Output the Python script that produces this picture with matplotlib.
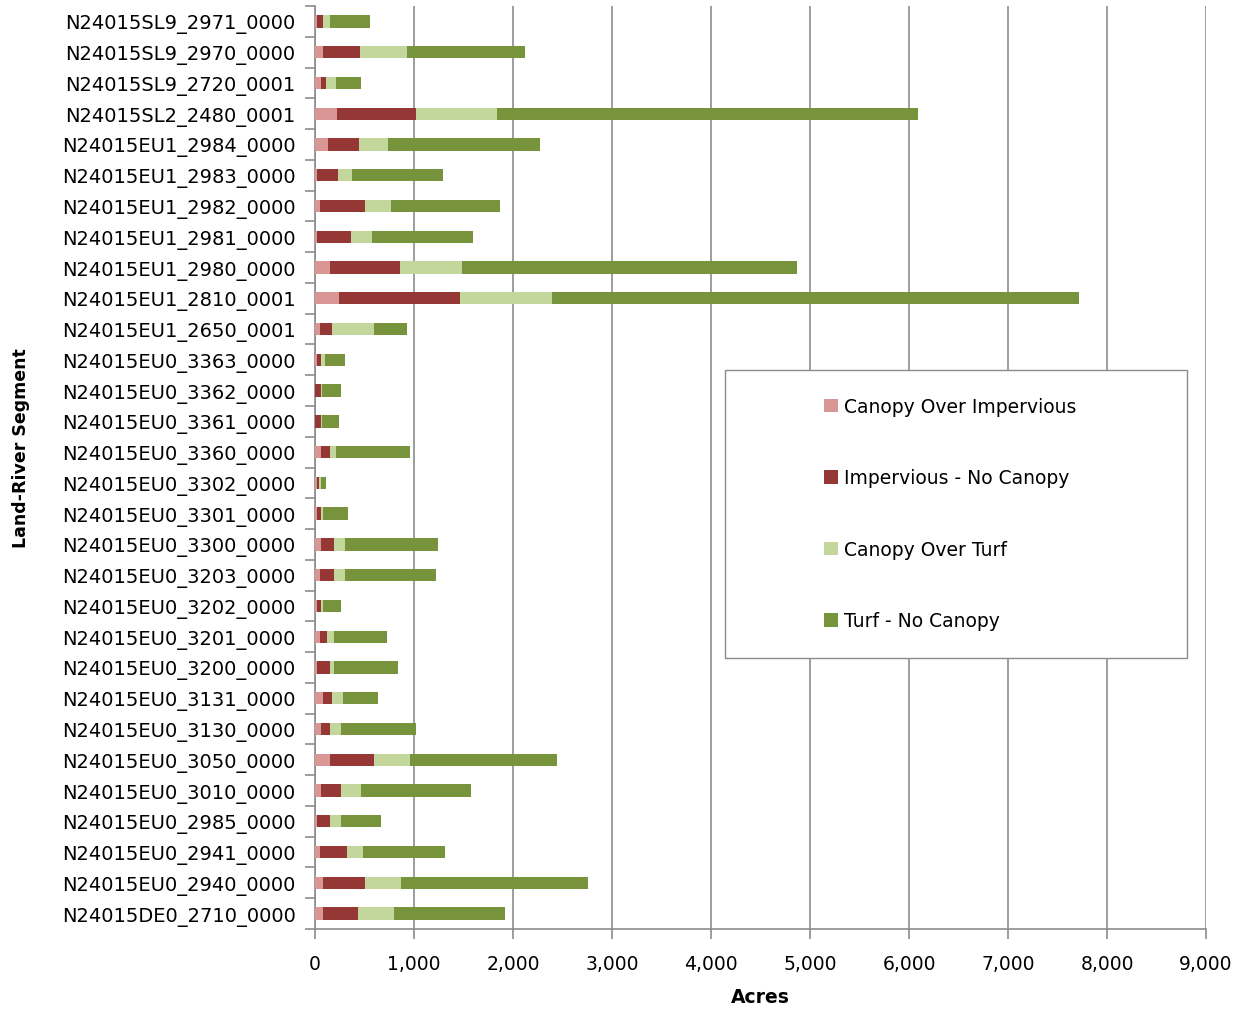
#!/usr/bin/env python3

"""Stacked horizontal bars: canopy / impervious / turf acres per land-river segment."""

import matplotlib
matplotlib.use('Agg')
import matplotlib.pyplot as plt
from matplotlib.patches import Rectangle
from matplotlib.ticker import FuncFormatter, FixedLocator
import numpy as np

plt.rcParams['font.family'] = ['DejaVu Sans']

# segments, top to bottom as in the chart
segments = ['N24015SL9_2971_0000', 'N24015SL9_2970_0000', 'N24015SL9_2720_0001',
            'N24015SL2_2480_0001', 'N24015EU1_2984_0000', 'N24015EU1_2983_0000',
            'N24015EU1_2982_0000', 'N24015EU1_2981_0000', 'N24015EU1_2980_0000',
            'N24015EU1_2810_0001', 'N24015EU1_2650_0001', 'N24015EU0_3363_0000',
            'N24015EU0_3362_0000', 'N24015EU0_3361_0000', 'N24015EU0_3360_0000',
            'N24015EU0_3302_0000', 'N24015EU0_3301_0000', 'N24015EU0_3300_0000',
            'N24015EU0_3203_0000', 'N24015EU0_3202_0000', 'N24015EU0_3201_0000',
            'N24015EU0_3200_0000', 'N24015EU0_3131_0000', 'N24015EU0_3130_0000',
            'N24015EU0_3050_0000', 'N24015EU0_3010_0000', 'N24015EU0_2985_0000',
            'N24015EU0_2941_0000', 'N24015EU0_2940_0000', 'N24015DE0_2710_0000']

canopy_imp = [24, 80, 64, 225, 135, 24, 47, 24, 155, 246, 47, 24, 5, 4, 64,
              24, 24, 64, 47, 24, 47, 24, 81, 64, 155, 64, 24, 47, 81, 81]
imp_no_canopy = [57, 370, 50, 800, 313, 205, 458, 336, 700, 1220, 128, 40, 59, 60, 91,
                 20, 40, 128, 145, 40, 71, 131, 94, 91, 445, 202, 131, 277, 424, 350]
canopy_turf = [74, 475, 95, 810, 293, 148, 260, 220, 627, 923, 425, 34, 5, 4, 54,
               13, 14, 111, 111, 14, 74, 37, 111, 111, 364, 202, 111, 165, 368, 371]
turf_no_canopy = [400, 1200, 255, 4255, 1534, 920, 1105, 1014, 3386, 5328, 330, 202, 197, 178, 755,
                  58, 259, 937, 920, 185, 533, 647, 348, 752, 1479, 1106, 405, 829, 1880, 1122]

series = [('Canopy Over Impervious', canopy_imp, '#D99694'),
          ('Impervious - No Canopy', imp_no_canopy, '#953735'),
          ('Canopy Over Turf', canopy_turf, '#C3D69B'),
          ('Turf - No Canopy', turf_no_canopy, '#77933C')]

W, H = 1244, 1012
fs = 13.5
fig = plt.figure(figsize=(W / 100, H / 100), dpi=100)
ax = fig.add_axes([315 / W, 1 - 930 / H, (1206 - 315) / W, 923 / H])

y = np.arange(len(segments))
left = np.zeros(len(segments))
for name, vals, col in series:
    vals = np.array(vals, dtype=float)
    ax.barh(y, vals, left=left, height=0.4, color=col, label=name, zorder=3)
    left += vals

ax.set_xlim(0, 9000)
ax.set_ylim(len(segments) - 0.5, -0.5)
ax.set_xticks(np.arange(0, 9001, 1000))
ax.xaxis.set_major_formatter(FuncFormatter(lambda v, p: f'{int(v):,}'))
ax.grid(axis='x', color='#8c8c8c', linewidth=1.2, zorder=0)

ax.set_yticks(y)
ax.set_yticklabels(segments)
ax.yaxis.set_minor_locator(FixedLocator(np.arange(-0.5, len(segments), 1)))
ax.tick_params(axis='y', which='major', length=0, pad=14, labelsize=14)
ax.tick_params(axis='y', which='minor', length=7, width=1.2, color='#8c8c8c')
ax.tick_params(axis='x', length=7, width=1.2, color='#8c8c8c', pad=11, labelsize=fs)

for s in ['top', 'right']:
    ax.spines[s].set_visible(False)
for s in ['left', 'bottom']:
    ax.spines[s].set_color('#8c8c8c')
    ax.spines[s].set_linewidth(1.2)

ax.set_xlabel('Acres', fontsize=fs, fontweight='bold', labelpad=10)
ax.set_ylabel('Land-River Segment', fontsize=12.5, fontweight='bold')
ax.yaxis.set_label_coords((30 - 315) / 891, 1 - (448 - 7) / 923)

# legend box drawn separately, entries placed inside it
fig.patches.append(Rectangle((725 / W, 1 - 659 / H), (1187 - 725) / W, (659 - 371) / H,
                             transform=fig.transFigure, facecolor='white',
                             edgecolor='#8c8c8c', linewidth=1.0, zorder=5))
leg = fig.legend(loc='upper left', bbox_to_anchor=(824 / W, 1 - 398 / H),
                 frameon=False, fontsize=fs, labelspacing=2.8, handlelength=0.75,
                 handleheight=0.75, handletextpad=0.3, borderpad=0, borderaxespad=0)
leg.set_zorder(6)

fig.savefig('out.png', dpi=100)
